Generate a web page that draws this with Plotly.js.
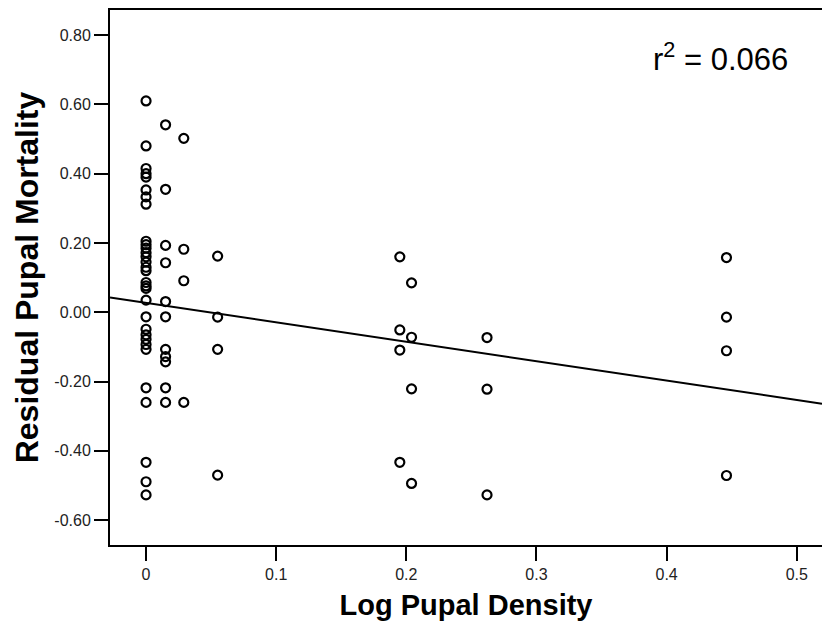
<!DOCTYPE html>
<html>
<head>
<meta charset="utf-8">
<script src="https://cdn.plot.ly/plotly-3.0.1.min.js"></script>
<style>html,body{margin:0;padding:0;background:#fff;}#chart{width:822px;height:628px;}</style>
</head>
<body>
<div id="chart"></div>
<script>
// Observed points (log pupal density, residual pupal mortality)
const densityX = [
  0,0,0,0,0,0,0,0,0,0,0,0,0,0,0,0,0,0,0,0,0,0,0,0,0,0,0,0,0,0,0,
  0.015,0.015,0.015,0.015,0.015,0.015,0.015,0.015,0.015,0.015,0.015,
  0.029,0.029,0.029,0.029,
  0.055,0.055,0.055,0.055,
  0.195,0.195,0.195,0.195,
  0.204,0.204,0.204,0.204,
  0.262,0.262,0.262,
  0.446,0.446,0.446,0.446
];
const mortalityY = [
  0.61,0.48,0.415,0.40,0.39,0.353,0.333,0.312,0.205,0.195,0.185,0.172,0.16,0.145,0.13,0.12,0.086,0.076,0.069,0.035,-0.013,-0.049,-0.065,-0.078,-0.093,-0.107,-0.218,-0.26,-0.433,-0.489,-0.527,
  0.541,0.355,0.193,0.143,0.031,-0.013,-0.107,-0.128,-0.143,-0.218,-0.26,
  0.502,0.182,0.091,-0.26,
  0.162,-0.014,-0.107,-0.47,
  0.16,-0.051,-0.109,-0.433,
  0.085,-0.072,-0.221,-0.494,
  -0.073,-0.222,-0.527,
  0.158,-0.014,-0.111,-0.471
];
// Fitted regression line
const fitIntercept = 0.027;
const fitSlope = -0.56;
const rSquaredText = "r<sup>2</sup> = 0.066";

// Axis ticks
const xTickVals = [0,0.1,0.2,0.3,0.4,0.5];
const xTickText = ["0","0.1","0.2","0.3","0.4","0.5"];
const yTickVals = [-0.6,-0.4,-0.2,0,0.2,0.4,0.6,0.8];
const yTickText = ["-0.60","-0.40","-0.20","0.00","0.20","0.40","0.60","0.80"];

const xRange = [-0.0277, 0.5194];
const yRange = [-0.6716, 0.8724];

const lineX = [xRange[0], xRange[1]];
const lineY = lineX.map(v => fitIntercept + fitSlope * v);

const data = [
  {
    x: lineX, y: lineY, type: 'scatter', mode: 'lines',
    line: {color: '#000', width: 2}, hoverinfo: 'skip', showlegend: false, cliponaxis: true
  },
  {
    x: densityX, y: mortalityY, type: 'scatter', mode: 'markers',
    marker: {symbol: 'circle-open', size: 9, color: '#000', line: {color: '#000', width: 2.2}},
    showlegend: false, cliponaxis: false
  }
];

const tickFont = {family: 'Liberation Sans, Arial, sans-serif', size: 16, color: '#222'};
const layout = {
  width: 822, height: 628,
  margin: {l: 110, r: 0, t: 10, b: 83, pad: 0},
  paper_bgcolor: '#fff', plot_bgcolor: '#fff',
  showlegend: false,
  xaxis: {
    range: xRange, tickmode: 'array', tickvals: xTickVals, ticktext: xTickText,
    ticks: 'outside', ticklen: 14, tickwidth: 2, tickcolor: '#000',
    showline: true, linecolor: '#000', linewidth: 2, mirror: true,
    showgrid: false, zeroline: false, tickfont: tickFont,
    title: {text: 'Log Pupal Density', font: {family: 'Liberation Sans, Arial, sans-serif', size: 29, color: '#000', weight: 'bold'}, standoff: 12}
  },
  yaxis: {
    range: yRange, tickmode: 'array', tickvals: yTickVals, ticktext: yTickText,
    ticks: 'outside', ticklen: 14, tickwidth: 2, tickcolor: '#000',
    showline: true, linecolor: '#000', linewidth: 2, mirror: false,
    showgrid: false, zeroline: false, tickfont: tickFont,
    title: {text: 'Residual Pupal Mortality', font: {family: 'Liberation Sans, Arial, sans-serif', size: 32, color: '#000', weight: 'bold'}, standoff: 6}
  },
  annotations: [{
    text: rSquaredText, xref: 'paper', yref: 'paper', x: 0.955, y: 0.912,
    xanchor: 'right', yanchor: 'middle', showarrow: false,
    font: {family: 'Liberation Sans, Arial, sans-serif', size: 31, color: '#000'}
  }]
};

Plotly.newPlot('chart', data, layout, {staticPlot: true, displayModeBar: false});
</script>
</body>
</html>
